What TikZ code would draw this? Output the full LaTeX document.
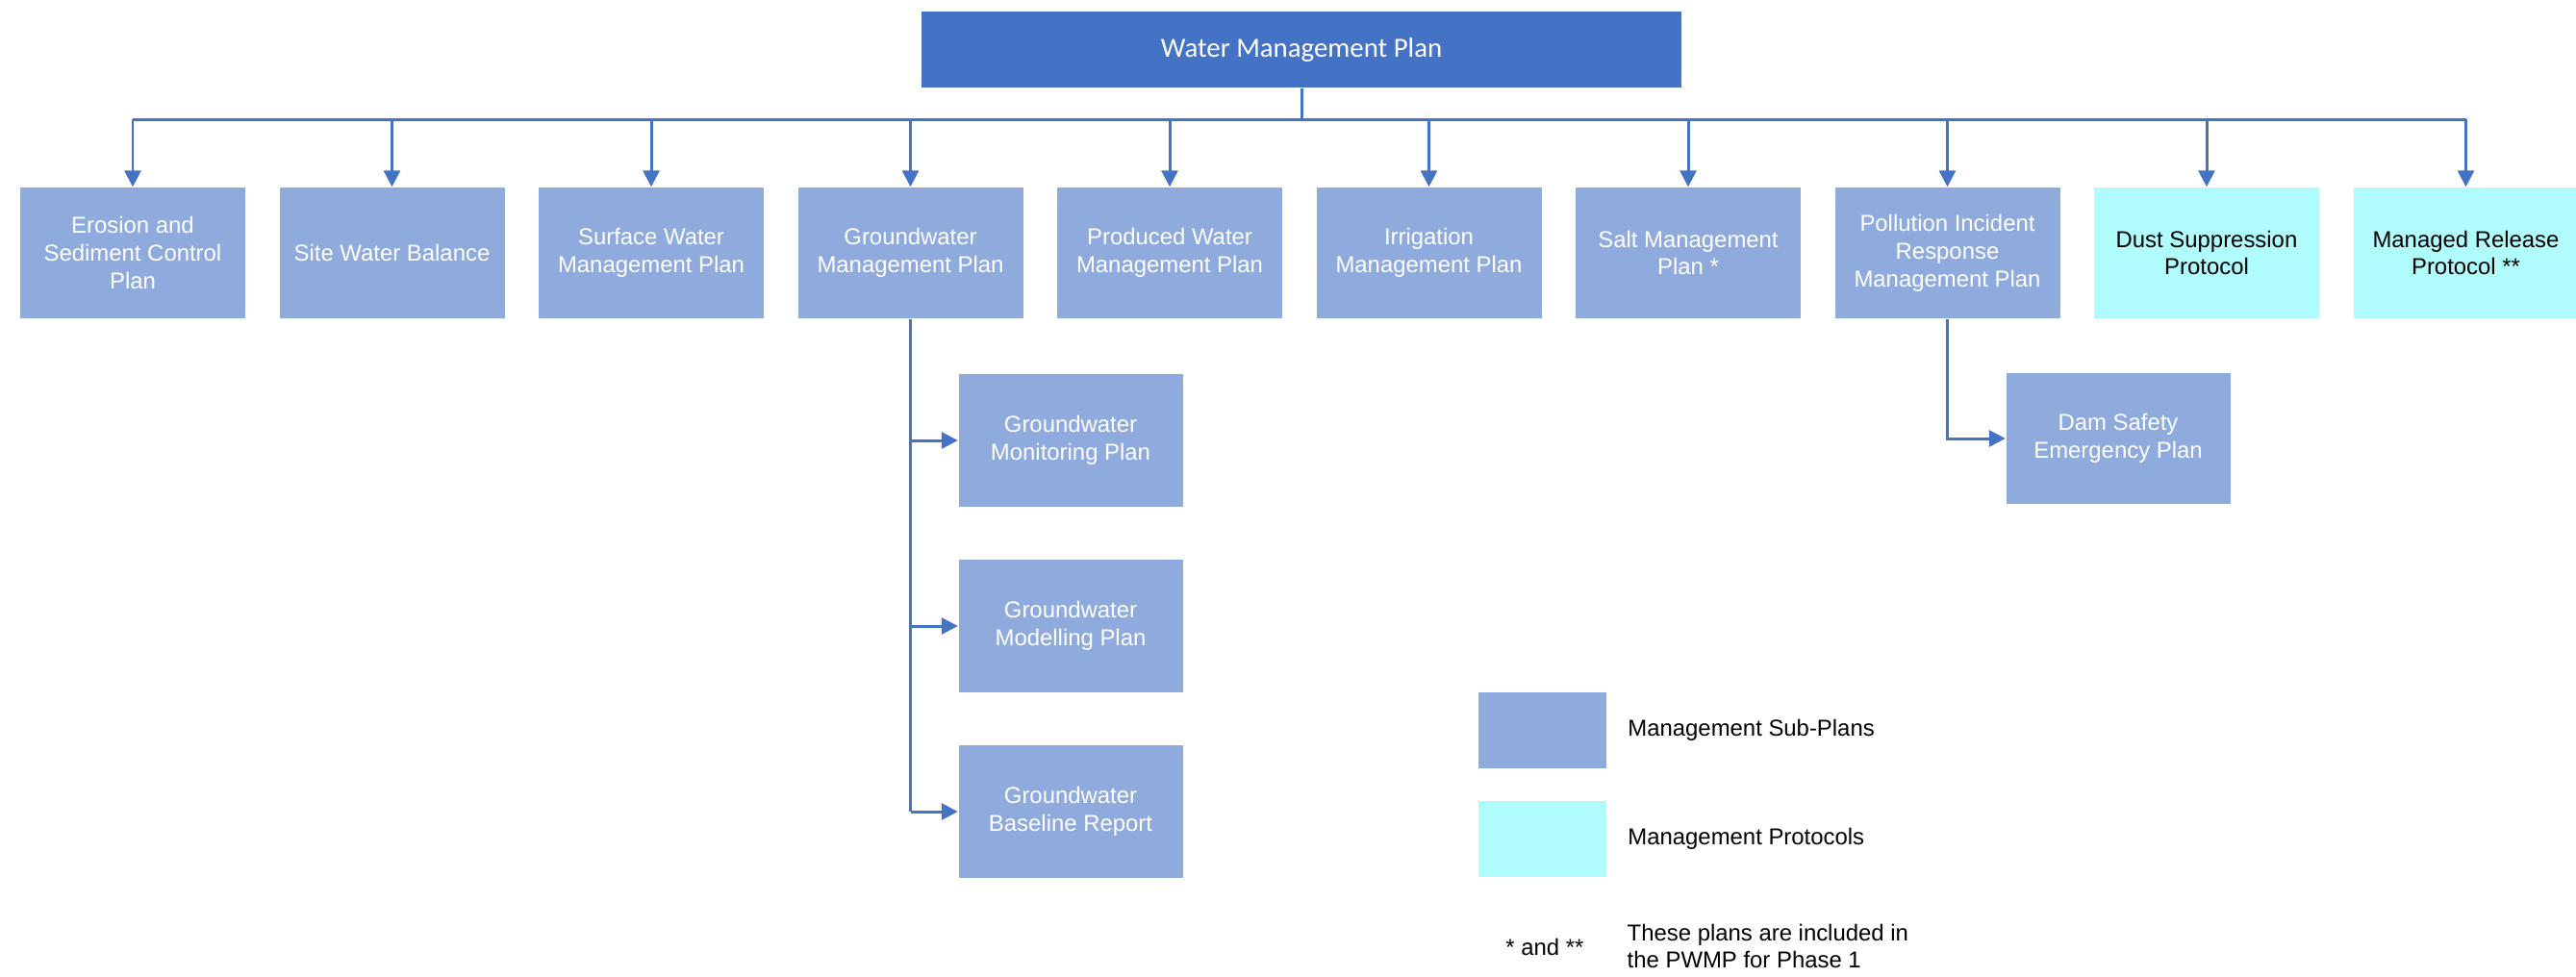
\documentclass[tikz,border=0pt]{standalone}
\usepackage{fontspec}
\setmainfont{Liberation Sans}
\newfontfamily\calibri{Carlito}
\usetikzlibrary{positioning, arrows.meta}
\usepackage{xcolor}

\definecolor{mainblue}{HTML}{4472C4}
\definecolor{subblue}{HTML}{8FAADC}
\definecolor{protocyan}{HTML}{B0FCFC}

\begin{document}
\begin{tikzpicture}

    % Styles for the boxes and the connectors
    \tikzstyle{plan} = [rectangle, fill=subblue, minimum width=2.34cm, minimum height=1.36cm,
                        align=center, text=white, inner sep=0pt,
                        font=\fontsize{6.8}{8.2}\selectfont]
    \tikzstyle{protocol} = [plan, fill=protocyan, text=black]
    \tikzstyle{wire} = [draw=mainblue, line width=0.85pt]
    \tikzstyle{link} = [wire, -{Triangle[length=1.7mm, width=1.7mm]}]
    \tikzstyle{keytext} = [anchor=west, align=left, inner sep=0pt,
                           font=\fontsize{6.8}{8.2}\selectfont]

    \useasboundingbox (0,0) rectangle (26.78,-10.15);

    % Main plan
    \node[rectangle, fill=mainblue, minimum width=7.9cm, minimum height=0.79cm, text=white,
          font=\calibri\fontsize{8.2}{10}\selectfont] (wmp) at (13.53,-0.515) {Water Management Plan};

    % Sub-plans and protocols
    \node[plan] (erosion) at (1.38,-2.63) {Erosion and \\ Sediment Control \\ Plan};
    \node[plan] (balance) at (4.075,-2.63) {Site Water Balance};
    \node[plan] (surface) at (6.77,-2.63) {Surface Water \\ Management Plan};
    \node[plan] (ground) at (9.465,-2.63) {Groundwater \\ Management Plan};
    \node[plan] (produced) at (12.16,-2.63) {Produced Water \\ Management Plan};
    \node[plan] (irrigation) at (14.855,-2.63) {Irrigation \\ Management Plan};
    \node[plan] (salt) at (17.55,-2.63) {Salt Management \\ Plan *};
    \node[plan] (pollution) at (20.245,-2.63) {Pollution Incident \\ Response \\ Management Plan};
    \node[protocol] (dust) at (22.94,-2.63) {Dust Suppression \\ Protocol};
    \node[protocol] (release) at (25.635,-2.63) {Managed Release \\ Protocol **};

    % Groundwater plans
    \node[plan, minimum width=2.33cm, minimum height=1.38cm] (gwmon) at (11.13,-4.58) {Groundwater \\ Monitoring Plan};
    \node[plan, minimum width=2.33cm, minimum height=1.38cm] (gwmodel) at (11.13,-6.51) {Groundwater \\ Modelling Plan};
    \node[plan, minimum width=2.33cm, minimum height=1.38cm] (gwbase) at (11.13,-8.44) {Groundwater \\ Baseline Report};

    % Dam safety
    \node[plan, minimum width=2.33cm] (dam) at (22.02,-4.56) {Dam Safety \\ Emergency Plan};

    % Connectors from the main plan
    \coordinate (bus) at (13.53,-1.24);
    \draw[wire] (wmp.south) -- (bus);
    \draw[wire] (bus -| erosion) -- (bus -| release);
    \draw[link] (bus -| erosion) -- (erosion.north);
    \draw[link] (bus -| balance) -- (balance.north);
    \draw[link] (bus -| surface) -- (surface.north);
    \draw[link] (bus -| ground) -- (ground.north);
    \draw[link] (bus -| produced) -- (produced.north);
    \draw[link] (bus -| irrigation) -- (irrigation.north);
    \draw[link] (bus -| salt) -- (salt.north);
    \draw[link] (bus -| pollution) -- (pollution.north);
    \draw[link] (bus -| dust) -- (dust.north);
    \draw[link] (bus -| release) -- (release.north);

    % Groundwater branch
    \draw[wire] (ground.south) -- (ground.south |- gwbase.west);
    \draw[link] (ground.south |- gwmon.west) -- (gwmon.west);
    \draw[link] (ground.south |- gwmodel.west) -- (gwmodel.west);
    \draw[link] (ground.south |- gwbase.west) -- (gwbase.west);

    % Pollution branch
    \draw[link] (pollution.south) |- (dam.west);

    % Legend
    \node[rectangle, fill=subblue, minimum width=1.33cm, minimum height=0.79cm] (keyplan) at (16.03,-7.59) {};
    \node[rectangle, fill=protocyan, minimum width=1.33cm, minimum height=0.79cm] (keyproto) at (16.03,-8.72) {};
    \node[keytext, right=0.215cm of keyplan] (keyplantext) {Management Sub-Plans};
    \node[keytext, right=0.215cm of keyproto] (keyprototext) {Management Protocols};
    \node[font=\fontsize{6.8}{8.2}\selectfont] (starnote) at (16.06,-9.85) {* and **};
    \node[keytext] (phasenote) at (16.91,-9.84) {These plans are included in \\ the PWMP for Phase 1};

\end{tikzpicture}
\end{document}
